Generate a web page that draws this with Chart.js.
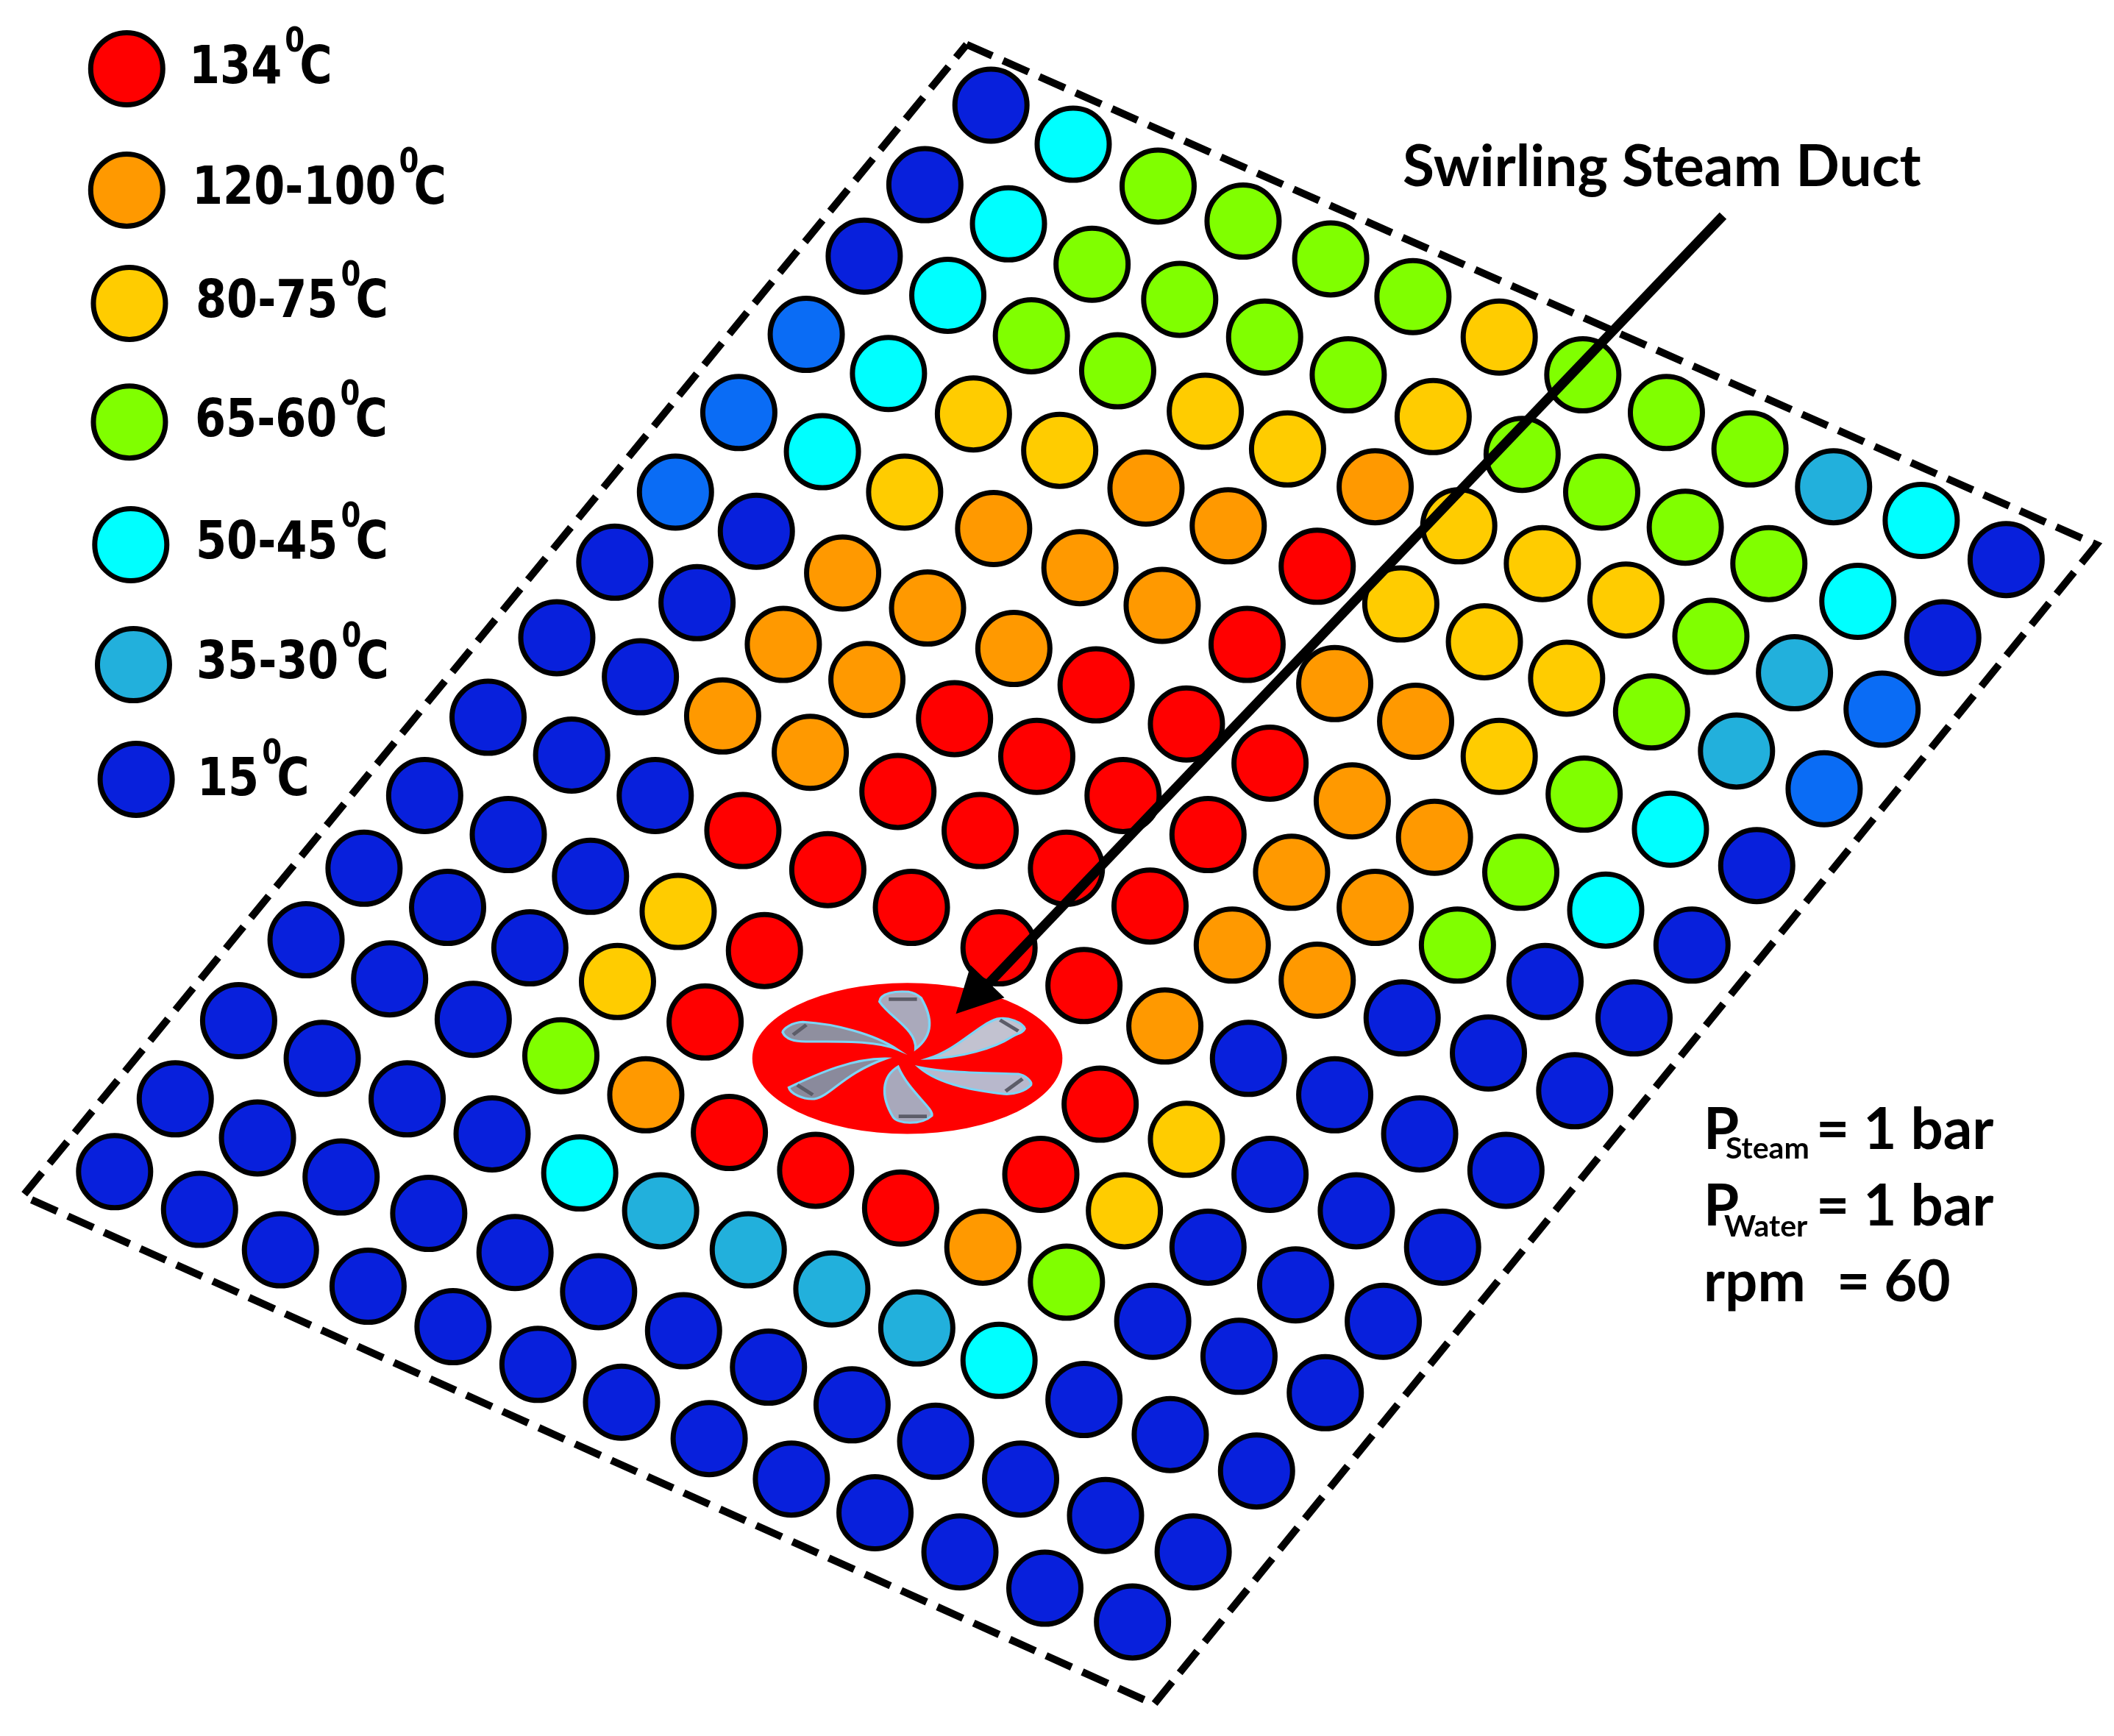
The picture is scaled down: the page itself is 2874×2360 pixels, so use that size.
<!DOCTYPE html>
<html>
<head>
<meta charset="utf-8">
<title>Swirling Steam Duct</title>
<script src="https://cdn.jsdelivr.net/npm/chart.js@4"></script>
<style>
  html, body { margin: 0; padding: 0; background: #fff; }
  canvas { display: block; }
</style>
</head>
<body>
<canvas id="chart" width="2874" height="2360"></canvas>
<script>
// tube positions, grouped by temperature band
const tubes134 = [[977,420],[925,478],[813,508],[880,537],[708,533],[769,561],[942,566],[666,587],[833,590],[551,616],[727,616],[896,619],[614,645],[791,644],[676,673],[853,672],[567,705],[741,703],[804,731],[523,758],[816,819],[541,840],[605,868],[772,871],[668,896]];
const tubes120 = [[850,362],[1020,361],[737,392],[911,390],[625,425],[801,421],[688,451],[862,449],[581,478],[752,481],[643,504],[990,507],[536,531],[601,558],[1050,535],[1003,594],[1064,621],[958,647],[1020,673],[914,701],[977,727],[864,761],[479,812],[729,925]];
const tubes80 = [[1112,250],[722,307],[1063,309],[894,305],[786,334],[955,333],[671,365],[1082,390],[1144,418],[1206,445],[1039,448],[1101,476],[1162,503],[1112,561],[503,676],[458,728],[880,845],[834,898]];
const tubes65 = [[859,138],[922,164],[987,192],[1048,220],[810,196],[875,222],[938,250],[1000,278],[765,249],[829,275],[1174,278],[1236,306],[1298,333],[1129,337],[1188,365],[1250,391],[1312,418],[1269,472],[1225,528],[1175,589],[1128,647],[1081,701],[416,783],[791,951]];
const tubes50 = [[796,107],[748,166],[703,219],[659,277],[610,335],[1425,386],[1378,446],[1239,615],[1191,675],[430,870],[741,1009]];
const tubes35 = [[1360,361],[1331,499],[1288,557],[490,898],[555,927],[617,956],[680,985]];
const tubes25 = [[598,248],[548,306],[501,365],[1396,526],[1353,585]]; // not in the legend
const tubes15 = [[735,78],[686,137],[641,190],[561,394],[456,417],[517,447],[413,473],[475,502],[362,532],[424,560],[486,590],[315,590],[377,619],[438,650],[270,644],[332,673],[393,703],[227,697],[289,726],[351,756],[177,757],[239,785],[302,815],[365,841],[130,815],[191,844],[253,873],[318,900],[382,929],[444,958],[507,987],[570,1014],[632,1042],[694,1069],[757,1097],[820,1124],[885,1151],[85,869],[148,897],[208,927],[273,954],[336,984],[399,1012],[461,1040],[526,1067],[587,1097],[649,1122],[712,1151],[775,1178],[840,1203],[932,1091],[868,1064],[804,1038],[983,1033],[919,1006],[855,980],[1026,980],[961,953],[896,925],[1070,925],[1006,898],[942,871],[1117,868],[1053,841],[990,812],[926,785],[1168,809],[1104,781],[1040,755],[1212,755],[1146,728],[1255,701],[1303,642],[1441,473],[1488,415]];

const legendLabels = ['134', '120-100', '80-75', '65-60', '50-45', '35-30', '15'];
const legendDots = [[94,51],[94,141],[96,225],[96,313],[97,404],[99,493],[101,578]];
const bandColors = ['#ff0000', '#ff9900', '#ffcc00', '#80ff00', '#00ffff', '#22b0dc', '#0820dc'];

const frameLine = [[717,33],[1555,404],[856,1264],[17,887],[717,33]];
const arrowLine = [[1278,160],[728,735]];
const arrowHead = [[709,752],[720,716],[745,740]];

const TUBE_R = 49;
const TUBE_B = 7;

function tubeSet(points, color, order) {
  return {
    data: points.map(p => ({ x: p[0], y: p[1] })),
    showLine: false,
    pointRadius: TUBE_R,
    pointHoverRadius: TUBE_R,
    pointBorderWidth: TUBE_B,
    pointBorderColor: '#000',
    pointBackgroundColor: color,
    clip: false,
    order: order
  };
}

function lineSet(points, width, dash, order) {
  return {
    data: points.map(p => ({ x: p[0], y: p[1] })),
    showLine: true,
    pointRadius: 0,
    borderColor: '#000',
    borderWidth: width,
    borderDash: dash,
    borderCapStyle: 'butt',
    tension: 0,
    clip: false,
    order: order
  };
}

// fan blades, traced in a local 2.613 x 3 zoomed box over the duct
const blades = [
  { fill: '#aaa9bb', path: 'M770 528 C775 450 680 400 642 335 C645 300 700 290 745 295 C770 300 785 315 790 320 C830 400 835 470 770 528Z', bar: [675,325,775,325] },
  { fill: '#c2c2d0', path: 'M815 567 C920 530 990 430 1060 405 C1100 395 1150 420 1158 445 C1150 465 1130 465 1110 480 C1050 525 930 565 815 567Z', bar: [1070,410,1135,455] },
  { fill: '#b8b8cc', path: 'M782 602 C880 625 1000 625 1135 630 C1160 635 1185 660 1180 675 C1160 700 1120 715 1085 712 C1000 700 860 680 782 602Z', bar: [1090,700,1150,650] },
  { fill: '#a8a8bb', path: 'M708 600 C650 640 645 720 690 805 C705 835 790 840 828 800 C835 770 745 700 708 600Z', bar: [710,803,810,803] },
  { fill: '#8a8a9c', path: 'M665 567 C550 565 430 625 320 685 C325 710 370 735 410 732 C470 720 510 630 665 567Z', bar: [350,675,405,715] },
  { fill: '#8f8f9f', path: 'M705 530 C620 465 480 425 370 418 C330 420 300 445 298 460 C310 490 340 497 380 498 C480 500 620 490 705 530Z', bar: [335,470,382,430] }
];

const ductPlugin = {
  id: 'duct',
  beforeDatasetsDraw(chart) {
    const ctx = chart.ctx, sx = chart.scales.x, sy = chart.scales.y;
    const cx = sx.getPixelForValue(673), cy = sy.getPixelForValue(785);
    const rx = sx.getPixelForValue(788) - cx, ry = sy.getPixelForValue(841) - cy;
    ctx.save();
    ctx.fillStyle = '#ff0000';
    ctx.beginPath();
    ctx.ellipse(cx, cy, rx, ry, 0, 0, Math.PI * 2);
    ctx.fill();
    ctx.translate(950, 1250);
    ctx.scale(1 / 2.613, 1 / 3);
    blades.forEach(b => {
      const p = new Path2D(b.path);
      ctx.fillStyle = b.fill;
      ctx.fill(p);
      ctx.strokeStyle = '#7fd4f4';
      ctx.lineWidth = 9;
      ctx.stroke(p);
      ctx.strokeStyle = '#5c5c68';
      ctx.lineWidth = 14;
      ctx.beginPath();
      ctx.moveTo(b.bar[0], b.bar[1]);
      ctx.lineTo(b.bar[2], b.bar[3]);
      ctx.stroke();
    });
    ctx.restore();
  },
  afterDatasetsDraw(chart) {
    const ctx = chart.ctx, sx = chart.scales.x, sy = chart.scales.y;
    ctx.save();
    ctx.fillStyle = '#000';
    ctx.beginPath();
    arrowHead.forEach((p, i) => {
      const x = sx.getPixelForValue(p[0]), y = sy.getPixelForValue(p[1]);
      if (i === 0) ctx.moveTo(x, y); else ctx.lineTo(x, y);
    });
    ctx.closePath();
    ctx.fill();
    ctx.restore();
    drawTexts(ctx);
  }
};

function squeezed(ctx, text, x, y, font, stretch) {
  ctx.save();
  ctx.font = font;
  ctx.translate(x, y);
  ctx.scale(stretch, 1);
  ctx.fillText(text, 0, 0);
  ctx.restore();
}

// legend text is a wide bold face squeezed sideways in the original
const legendLeft = [257, 261, 266, 265, 266, 267, 268];
const legendBase = [113, 277, 431, 593, 759, 922, 1081];

function drawTexts(ctx) {
  ctx.save();
  ctx.fillStyle = '#000';
  ctx.textBaseline = 'alphabetic';
  const bold = 'bold 72px "DejaVu Sans"';
  const stretch = 0.84;
  legendLabels.forEach((label, i) => {
    const x = legendLeft[i], y = legendBase[i];
    squeezed(ctx, label, x, y, bold, stretch);
    ctx.font = bold;
    const end = x + ctx.measureText(label).width * stretch;
    squeezed(ctx, '0', end + 4, y - 43, 'bold 46px "DejaVu Sans"', 0.84);
    squeezed(ctx, 'C', end + 24, y, bold, 0.84);
  });

  const lato = size => 'bold ' + size + 'px Lato';
  ctx.font = lato(78.4);
  ctx.fillText('Swirling Steam Duct', 1907, 253);

  ctx.font = lato(78);
  ctx.fillText('P', 2316, 1562);
  ctx.fillText('= 1 bar', 2469, 1562);
  ctx.fillText('P', 2316, 1666);
  ctx.fillText('= 1 bar', 2469, 1666);
  ctx.fillText('rpm', 2316, 1769);
  ctx.fillText('= 60', 2497, 1769);
  ctx.font = lato(41);
  ctx.fillText('Steam', 2346, 1575);
  ctx.fillText('Water', 2344, 1681);
  ctx.restore();
}

const ctx = document.getElementById('chart').getContext('2d');
new Chart(ctx, {
  type: 'scatter',
  data: {
    datasets: [
      lineSet(arrowLine, 13, [], 1),
      tubeSet(legendDots.slice(0, 1), bandColors[0], 2),
      tubeSet(legendDots.slice(1, 2), bandColors[1], 2),
      tubeSet(legendDots.slice(2, 3), bandColors[2], 2),
      tubeSet(legendDots.slice(3, 4), bandColors[3], 2),
      tubeSet(legendDots.slice(4, 5), bandColors[4], 2),
      tubeSet(legendDots.slice(5, 6), bandColors[5], 2),
      tubeSet(legendDots.slice(6, 7), bandColors[6], 2),
      tubeSet(tubes134, bandColors[0], 3),
      tubeSet(tubes120, bandColors[1], 3),
      tubeSet(tubes80, bandColors[2], 3),
      tubeSet(tubes65, bandColors[3], 3),
      tubeSet(tubes50, bandColors[4], 3),
      tubeSet(tubes35, bandColors[5], 3),
      tubeSet(tubes25, '#0a6cf5', 3),
      tubeSet(tubes15, bandColors[6], 3),
      lineSet(frameLine, 10, [38, 16], 4)
    ]
  },
  options: {
    responsive: false,
    animation: false,
    layout: { padding: 0, autoPadding: false },
    scales: {
      x: { type: 'linear', display: false, min: 0, max: 1568 },
      y: { type: 'linear', display: false, min: 0, max: 1287.6, reverse: true }
    },
    plugins: {
      legend: { display: false },
      tooltip: { enabled: false }
    }
  },
  plugins: [ductPlugin]
});
</script>
</body>
</html>
